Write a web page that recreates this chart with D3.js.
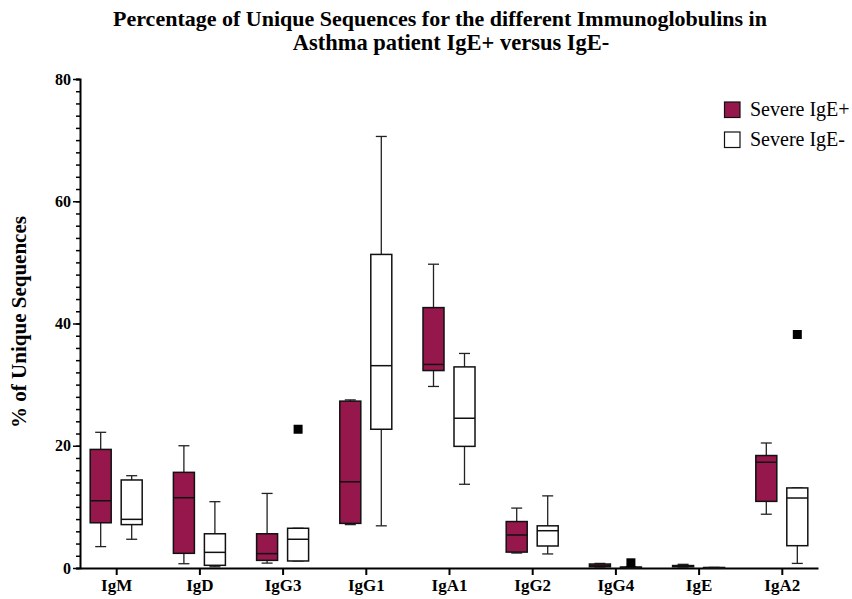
<!DOCTYPE html>
<html>
<head>
<meta charset="utf-8">
<script src="https://cdn.jsdelivr.net/npm/d3@7"></script>
<style>
  body { margin: 0; background: #fff; }
  svg text { font-family: "Liberation Serif", "Times New Roman", serif; }
</style>
</head>
<body>
<div id="chart"></div>
<script>
// categories on the x axis
const categories = ["IgM", "IgD", "IgG3", "IgG1", "IgA1", "IgG2", "IgG4", "IgE", "IgA2"];
// [min, q1, median, q3, max] per category
const severePos = [
    [3.5, 7.4, 11.0, 19.4, 22.2],
    [0.7, 2.4, 11.5, 15.65, 20.0],
    [0.8, 1.25, 2.35, 5.6, 12.2],
    [7.1, 7.3, 14.1, 27.3, 27.5],
    [29.7, 32.3, 33.3, 42.6, 49.7],
    [2.45, 2.6, 5.4, 7.6, 9.8],
    [0.15, 0.2, 0.35, 0.65, 0.75],
    [0.15, 0.2, 0.3, 0.4, 0.6],
    [8.8, 10.9, 17.3, 18.4, 20.45]
];
const severeNeg = [
    [4.7, 7.1, 7.96, 14.4, 15.1],
    [0.2, 0.44, 2.56, 5.6, 10.85],
    [1.15, 1.15, 4.7, 6.5, 6.5],
    [6.9, 22.7, 33.1, 51.3, 70.6],
    [13.7, 19.9, 24.5, 32.9, 35.1],
    [2.3, 3.6, 6.1, 6.9, 11.8],
    [0.05, 0.08, 0.1, 0.15, 0.2],
    [0.02, 0.03, 0.05, 0.08, 0.1],
    [0.75, 3.65, 11.45, 13.1, 13.1]
];
// outlier points (only in the IgE- group)
const outlierCats = ["IgG3", "IgG4", "IgA2"];
const outlierVals = [22.7, 0.85, 38.2];
const seriesNames = ["Severe IgE+", "Severe IgE-"];
const yTicks = [0, 20, 40, 60, 80];

const width = 852, height = 599;
const pink = "#96174c";

const svg = d3.select("#chart").append("svg")
    .attr("width", width)
    .attr("height", height);

const x = d3.scalePoint()
    .domain(categories)
    .range([80, 818])
    .padding(0.435);

const y = d3.scaleLinear()
    .domain([0, 80])
    .range([568, 79]);

const boxW = 21, offset = 15.5, capW = 11;

// title
svg.append("text")
    .attr("x", 440).attr("y", 26)
    .attr("text-anchor", "middle")
    .attr("font-size", 22).attr("font-weight", "bold")
    .text("Percentage of Unique Sequences for the different Immunoglobulins in");
svg.append("text")
    .attr("x", 451).attr("y", 50)
    .attr("text-anchor", "middle")
    .attr("font-size", 22.5).attr("font-weight", "bold")
    .text("Asthma patient IgE+ versus IgE-");

// y axis: minor ticks every 2, then major with labels
svg.append("g")
    .attr("transform", "translate(80,0)")
    .call(d3.axisLeft(y).tickValues(d3.range(0, 81, 2)).tickSize(4).tickFormat(""))
    .call(g => g.selectAll("line").attr("stroke-width", 1.5))
    .call(g => g.select(".domain").attr("stroke-width", 2));

svg.append("g")
    .attr("transform", "translate(80,0)")
    .call(d3.axisLeft(y).tickValues(yTicks).tickSize(7).tickPadding(2))
    .call(g => g.select(".domain").remove())
    .call(g => g.selectAll("line").attr("stroke-width", 1.5))
    .call(g => g.selectAll("text")
        .attr("font-size", 16).attr("font-weight", "bold").attr("fill", "#000"));

svg.append("text")
    .attr("transform", "translate(26,322) rotate(-90)")
    .attr("text-anchor", "middle")
    .attr("font-size", 21).attr("font-weight", "bold")
    .text("% of Unique Sequences");

// x axis
svg.append("g")
    .attr("transform", "translate(0,568)")
    .call(d3.axisBottom(x).tickSize(7).tickSizeOuter(0))
    .call(g => g.select(".domain").attr("stroke-width", 2))
    .call(g => g.selectAll("line").attr("stroke-width", 2))
    .call(g => g.selectAll("text")
        .attr("y", 23).attr("dy", 0)
        .attr("font-size", 17).attr("font-weight", "bold").attr("fill", "#000"));

// box plots
function drawBoxes(stats, dx, fill) {
    const g = svg.append("g");
    stats.forEach((s, i) => {
        const cx = x(categories[i]) + dx;
        const [mn, q1, md, q3, mx] = s;
        const bg = g.append("g");
        bg.append("line")
            .attr("x1", cx).attr("x2", cx)
            .attr("y1", y(mx)).attr("y2", y(mn))
            .attr("stroke", "#222").attr("stroke-width", 1.3);
        [mn, mx].forEach(v => {
            bg.append("line")
                .attr("x1", cx - capW / 2).attr("x2", cx + capW / 2)
                .attr("y1", y(v)).attr("y2", y(v))
                .attr("stroke", "#222").attr("stroke-width", 1.3);
        });
        bg.append("rect")
            .attr("x", cx - boxW / 2).attr("width", boxW)
            .attr("y", y(q3)).attr("height", Math.max(y(q1) - y(q3), 0.5))
            .attr("fill", fill)
            .attr("stroke", "#111").attr("stroke-width", 1.5);
        bg.append("line")
            .attr("x1", cx - boxW / 2).attr("x2", cx + boxW / 2)
            .attr("y1", y(md)).attr("y2", y(md))
            .attr("stroke", "#111").attr("stroke-width", 1.5);
    });
}
drawBoxes(severePos, -offset, pink);
drawBoxes(severeNeg, offset, "#fff");

// outliers
svg.append("g").selectAll("rect")
    .data(outlierCats)
    .join("rect")
    .attr("x", (d, i) => x(d) + offset - 4.5)
    .attr("y", (d, i) => y(outlierVals[i]) - 4.5)
    .attr("width", 9).attr("height", 9)
    .attr("fill", "#000");

// legend
const legend = svg.append("g");
seriesNames.forEach((name, i) => {
    legend.append("rect")
        .attr("x", 724.5).attr("y", 102 + i * 30)
        .attr("width", 15.5).attr("height", 15.5)
        .attr("fill", i === 0 ? pink : "#fff")
        .attr("stroke", "#111").attr("stroke-width", 1.2);
    legend.append("text")
        .attr("x", 750).attr("y", 116 + i * 30)
        .attr("font-size", 20)
        .text(name);
});
</script>
</body>
</html>
